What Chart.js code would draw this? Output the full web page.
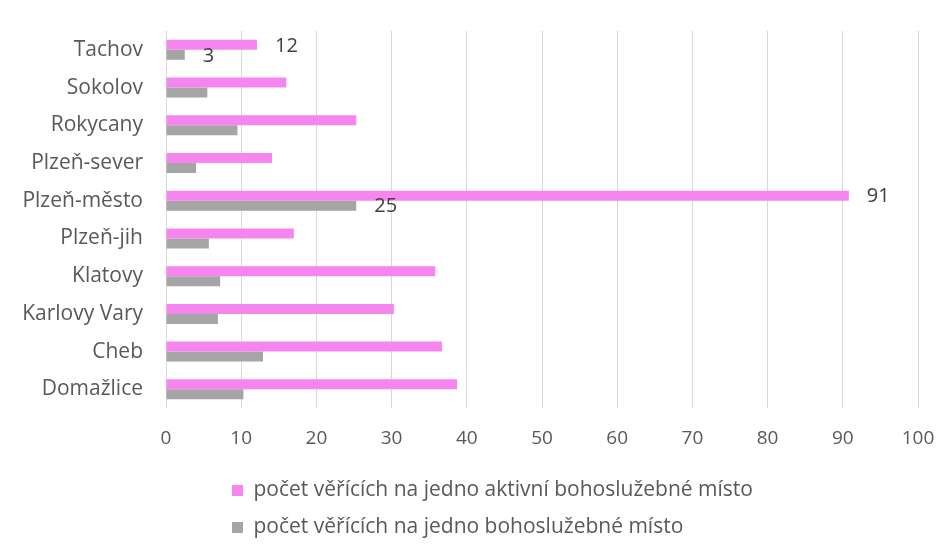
<!DOCTYPE html>
<html>
<head>
<meta charset="utf-8">
<script src="https://cdn.jsdelivr.net/npm/chart.js@4.4.1/dist/chart.umd.min.js"></script>
<style>
  html, body { margin: 0; padding: 0; background: #fff; }
  canvas { display: block; }
</style>
</head>
<body>
<canvas id="chart" width="940" height="546"></canvas>
<script>
const districts = ["Tachov", "Sokolov", "Rokycany", "Plzeň-sever", "Plzeň-město",
  "Plzeň-jih", "Klatovy", "Karlovy Vary", "Cheb", "Domažlice"];
const activePlaces = [12.1, 16, 25.3, 14.1, 90.8, 17, 35.8, 30.3, 36.7, 38.7];
const allPlaces = [2.5, 5.5, 9.5, 4, 25.3, 5.7, 7.2, 6.9, 12.9, 10.3];
const labeledDistricts = ["Tachov", "Plzeň-město"];
const seriesNames = [
  "počet věřících na jedno aktivní bohoslužebné místo",
  "počet věřících na jedno bohoslužebné místo",
];

const FONT = "'Open Sans', sans-serif";

// values shown next to a few bars only
const valueLabels = {
  id: "valueLabels",
  afterDatasetsDraw(chart) {
    const ctx = chart.ctx;
    ctx.save();
    ctx.font = `20px ${FONT}`;
    ctx.fillStyle = "#404040";
    ctx.textAlign = "left";
    ctx.textBaseline = "middle";
    chart.data.datasets.forEach((ds, i) => {
      const meta = chart.getDatasetMeta(i);
      labeledDistricts.forEach((name) => {
        const idx = chart.data.labels.indexOf(name);
        const bar = meta.data[idx];
        ctx.fillText(Math.round(ds.data[idx]), bar.x + 18, bar.y + 1);
      });
    });
    ctx.restore();
  },
};

// legend sits left-aligned under the plot, one entry per row
const legendPlace = {
  id: "legendPlace",
  afterLayout(chart) {
    chart.legend.left = 216;
    chart.legend.top = 464;
  },
};

new Chart(document.getElementById("chart"), {
  type: "bar",
  data: {
    labels: districts,
    datasets: [
      {
        label: seriesNames[0],
        data: activePlaces,
        backgroundColor: "#f685f0",
      },
      {
        label: seriesNames[1],
        data: allPlaces,
        backgroundColor: "#a5a5a5",
      },
    ],
  },
  options: {
    indexAxis: "y",
    responsive: false,
    animation: false,
    layout: { padding: { top: 31, bottom: -7, right: 0 } },
    datasets: {
      bar: { categoryPercentage: 0.53, barPercentage: 1 },
    },
    scales: {
      x: {
        min: 0,
        max: 100,
        afterFit(scale) {
          scale.paddingRight = 22;
        },
        ticks: {
          stepSize: 10,
          padding: 19,
          color: "#595959",
          font: { family: FONT, size: 19 },
        },
        grid: { color: "#d9d9d9", drawTicks: false },
        border: { display: false },
      },
      y: {
        afterFit(scale) {
          scale.width = 166;
        },
        ticks: {
          padding: 15,
          color: "#595959",
          font: { family: FONT, size: 21 },
        },
        grid: { display: false },
        border: { display: false },
      },
    },
    plugins: {
      legend: {
        position: "bottom",
        align: "start",
        labels: {
          boxWidth: 11,
          boxHeight: 11,
          padding: 16,
          color: "#595959",
          font: { family: FONT, size: 21 },
        },
      },
      tooltip: { enabled: false },
    },
  },
  plugins: [valueLabels, legendPlace],
});
</script>
</body>
</html>
